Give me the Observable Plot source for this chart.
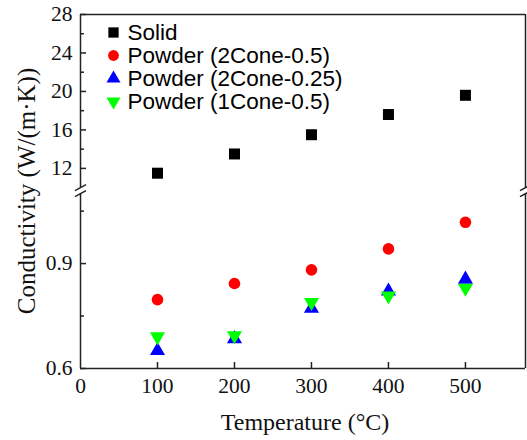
<!DOCTYPE html>
<html>
<head>
<meta charset="utf-8">
<script src="https://cdn.jsdelivr.net/npm/d3@7"></script>
<script src="https://cdn.jsdelivr.net/npm/@observablehq/plot@0.6"></script>
<style>
  body { margin: 0; background: #fff; }
  svg { display: block; }
</style>
</head>
<body>
<div id="chart"></div>
<script>
// ---- data ----
const temperatures = [100, 200, 300, 400, 500];
const solid        = [11.5, 13.5, 15.5, 17.6, 19.6];
const powder2c05   = [0.797, 0.843, 0.882, 0.942, 1.018];
const powder2c025  = [0.651, 0.685, 0.772, 0.821, 0.855];
const powder1c05   = [0.691, 0.694, 0.789, 0.808, 0.830];

const seriesNames  = ["Solid", "Powder (2Cone-0.5)", "Powder (2Cone-0.25)", "Powder (1Cone-0.5)"];
const seriesValues = [solid, powder2c05, powder2c025, powder1c05];
const seriesColors = ["#000000", "#ff0000", "#0000ff", "#00ff00"];
const seriesShapes = ["square", "circle", "triangle", "triangleDown"];

const xTicks       = [0, 100, 200, 300, 400, 500];
const yMajorTicks  = [0.6, 0.9, 12, 16, 20, 24, 28];
const yMinorTicks  = [0.75, 1.05, 14, 18, 22, 26];
const xDomain      = [0, 578];
const lowerDomain  = [0.6, 1.1];
const upperDomain  = [10, 28];
const xTitle = "Temperature (°C)";
const yTitle = "Conductivity (W/(m·K))";

// ---- broken-axis layout (segment heights in scale units) ----
const lowerSpan = 175, gapSpan = 6, upperSpan = 173.25;
const upperStart = lowerSpan + gapSpan;
const uMax = upperStart + upperSpan;
function brk(v) {
  if (v <= lowerDomain[1] + 1e-9) return (v - lowerDomain[0]) / (lowerDomain[1] - lowerDomain[0]) * lowerSpan;
  return upperStart + (v - upperDomain[0]) / (upperDomain[1] - upperDomain[0]) * upperSpan;
}

// custom symbols
const triangleDown = {
  draw(ctx, size) {
    const y = Math.sqrt(size / (3 * Math.sqrt(3)));
    ctx.moveTo(0, 2 * y);
    ctx.lineTo(-Math.sqrt(3) * y, -y);
    ctx.lineTo(Math.sqrt(3) * y, -y);
    ctx.closePath();
  }
};
const slash = {
  draw(ctx) { ctx.moveTo(-5.5, 3); ctx.lineTo(5.5, -3); }
};
const symbolOf = s => s === "triangleDown" ? triangleDown : s;
const rOf = s => s === "square" ? 6.2 : s === "circle" ? 5.8 : 5.6;

const rows = [];
seriesNames.forEach((name, si) => {
  temperatures.forEach((t, i) => rows.push({series: si, x: t, u: brk(seriesValues[si][i])}));
});

const axisColor = "#222";
const serif = "Liberation Serif, Times New Roman, serif";
const sans = "Liberation Sans, Arial, sans-serif";

const majorU = yMajorTicks.map(brk);
const minorU = yMinorTicks.map(brk);
const breakMarks = [
  {x: xDomain[0], u: lowerSpan}, {x: xDomain[0], u: upperStart},
  {x: xDomain[1], u: lowerSpan}, {x: xDomain[1], u: upperStart}
];

const marks = [
  // frame / axis lines
  Plot.ruleY([0], {x1: xDomain[0], x2: xDomain[1], stroke: axisColor, strokeWidth: 1.5}),
  Plot.ruleY([uMax], {x1: xDomain[0], x2: xDomain[1], stroke: axisColor, strokeWidth: 1.5}),
  Plot.ruleX([xDomain[0], xDomain[1]], {y1: 0, y2: lowerSpan, stroke: axisColor, strokeWidth: 1.5}),
  Plot.ruleX([xDomain[0], xDomain[1]], {y1: upperStart, y2: uMax, stroke: axisColor, strokeWidth: 1.5}),
  Plot.dot(breakMarks, {x: "x", y: "u", symbol: slash, stroke: axisColor, strokeWidth: 1.5, fill: "none"}),
  // axes
  Plot.axisX({ticks: xTicks, tickSize: 0, tickPadding: 9, label: null, fontSize: 21.5, fontFamily: serif, color: "#111"}),
  Plot.axisX({ticks: xTicks.filter(d => d > 0), tickSize: -6, tickFormat: () => "", label: null, stroke: axisColor, strokeWidth: 1.5}),
  Plot.axisY({ticks: majorU, tickSize: 0, tickPadding: 8, label: null, fontSize: 21.5, fontFamily: serif, color: "#111",
    tickFormat: u => String(yMajorTicks[majorU.indexOf(u)])}),
  Plot.axisY({ticks: majorU, tickSize: -6, tickFormat: () => "", label: null, stroke: axisColor, strokeWidth: 1.5}),
  Plot.axisY({ticks: minorU, tickSize: -4, tickFormat: () => "", label: null, stroke: axisColor, strokeWidth: 1.5}),
  // data
  ...seriesNames.map((name, si) =>
    Plot.dot(rows.filter(d => d.series === si), {
      x: "x", y: "u", symbol: symbolOf(seriesShapes[si]), r: rOf(seriesShapes[si]),
      fill: seriesColors[si], stroke: "none"
    })
  ),
  // legend
  ...seriesNames.flatMap((name, si) => [
    Plot.dot([name], {frameAnchor: "top-left", dx: 33, dy: 18 + si * 23,
      symbol: symbolOf(seriesShapes[si]), r: rOf(seriesShapes[si]) - 0.4, fill: seriesColors[si], stroke: "none"}),
    Plot.text([name], {frameAnchor: "top-left", dx: 47, dy: 18 + si * 23, text: d => d,
      textAnchor: "start", lineAnchor: "middle", fontSize: 22.5, fontFamily: sans, fill: "#000"})
  ]),
  // titles
  Plot.text([xTitle], {frameAnchor: "bottom", dx: 2, dy: 54, text: d => d, textAnchor: "middle", lineAnchor: "middle",
    fontSize: 24, fontFamily: serif, fill: "#111"}),
  Plot.text([yTitle], {frameAnchor: "left", dx: -54, dy: -0.5, rotate: -90, text: d => d, textAnchor: "middle", lineAnchor: "middle",
    fontSize: 25, fontFamily: serif, fill: "#111"})
];

const chart = Plot.plot({
  width: 527,
  height: 440,
  marginLeft: 80,
  marginRight: 2,
  marginTop: 14,
  marginBottom: 72,
  style: {background: "#fff", overflow: "visible"},
  x: {domain: xDomain, label: null},
  y: {domain: [0, uMax], label: null},
  marks
});
document.getElementById("chart").appendChild(chart);
</script>
</body>
</html>
